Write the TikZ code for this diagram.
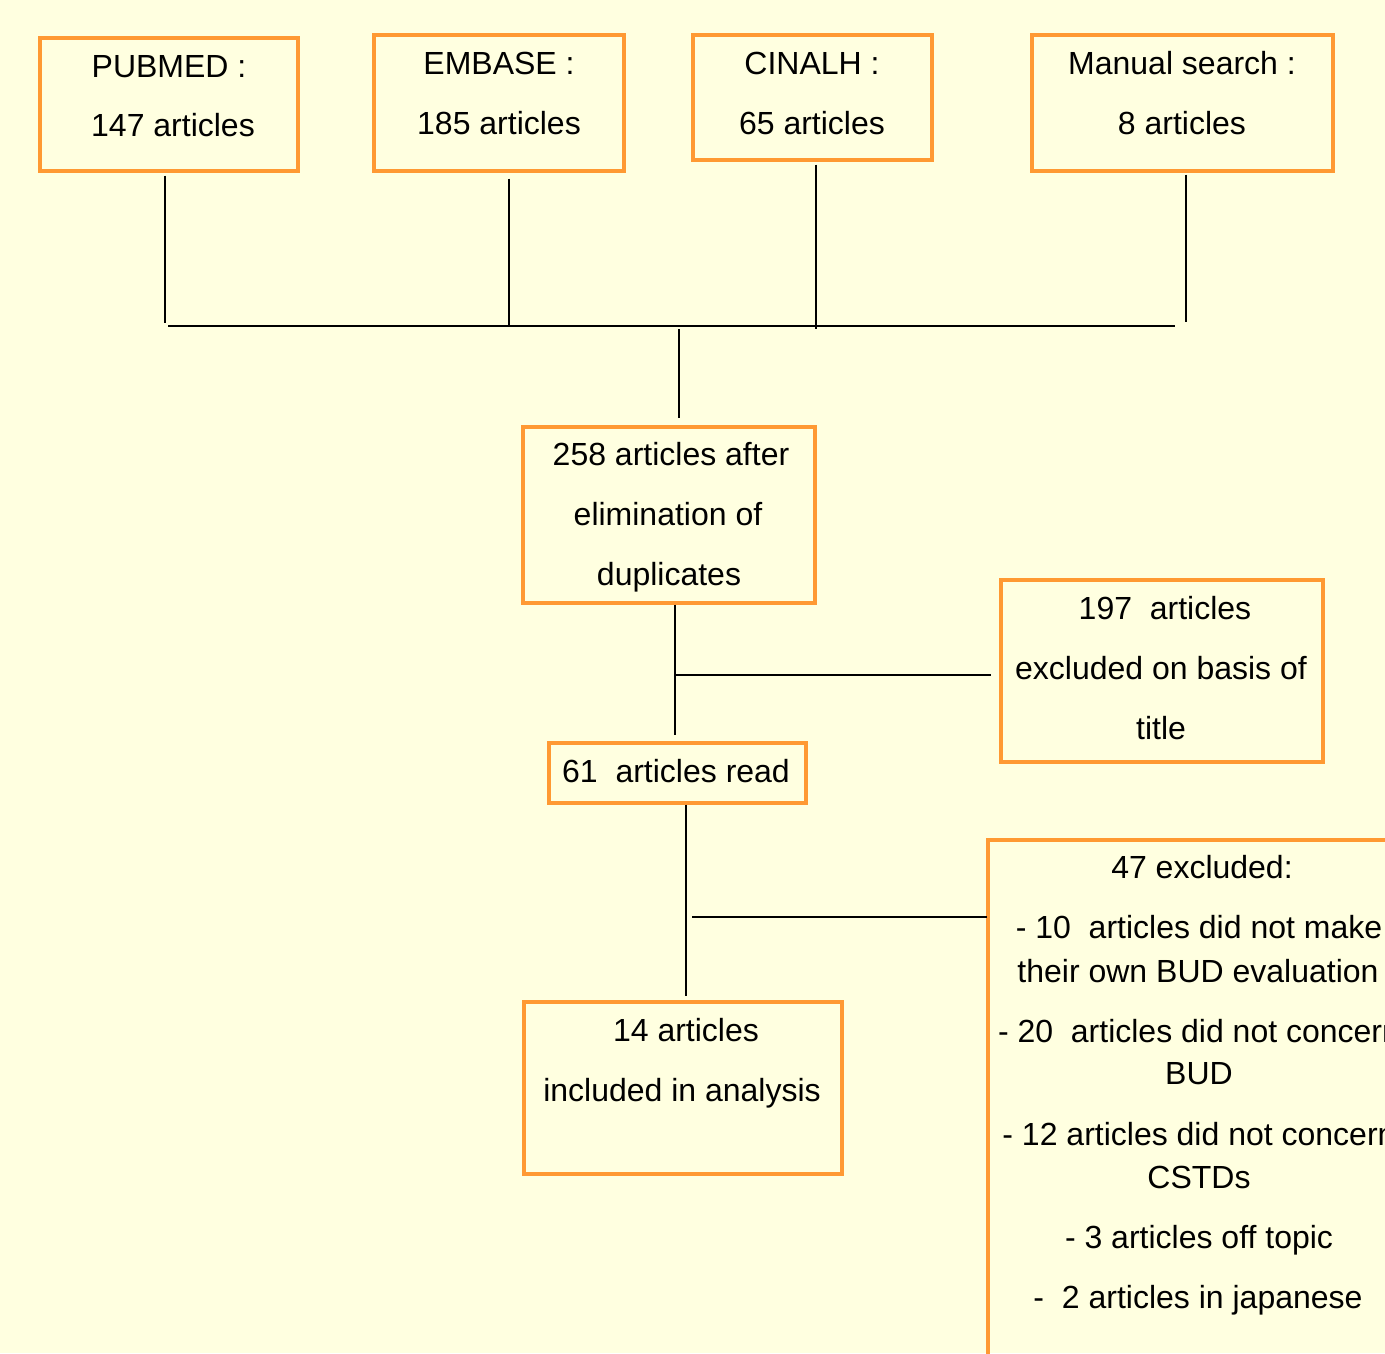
\documentclass[tikz,border=0pt]{standalone}
\usepackage{fontspec}
\setmainfont{Liberation Sans}
\definecolor{bgyellow}{RGB}{255,255,224}
\definecolor{boxorange}{RGB}{255,153,51}
\begin{document}
\begin{tikzpicture}[x=0.75pt,y=-0.75pt,
  box/.style={draw=boxorange, line width=2.4pt, inner sep=0pt},
  txt/.style={anchor=base, inner sep=0pt, font=\fontsize{24}{29}\selectfont},
  conn/.style={draw=black, line width=1.4pt}]
\fill[bgyellow] (0,0) rectangle (1385,1353);
\useasboundingbox (0,0) rectangle (1385,1353);
\clip (0,0) rectangle (1385,1353);

% boxes
\node[box, minimum width=193.5pt, minimum height=99.75pt] (pub) at (169,104.5) {};
\node[box, minimum width=187.5pt, minimum height=102pt] (emb) at (499,103) {};
\node[box, minimum width=179.25pt, minimum height=93.75pt] (cin) at (812.5,97.5) {};
\node[box, minimum width=225.75pt, minimum height=102pt] (man) at (1182.5,103) {};
\node[box, minimum width=219pt, minimum height=132pt] (dup) at (669,515) {};
\node[box, minimum width=241.5pt, minimum height=136.5pt] (tit) at (1162,671) {};
\node[box, minimum width=192.75pt, minimum height=45pt] (read) at (677.5,773) {};
\node[box, minimum width=238.5pt, minimum height=129pt] (inc) at (683,1088) {};
\node[box, minimum width=316.5pt, minimum height=405pt] (exc) at (1199,1110) {};

% texts
\node[txt] (pub1) at (169,77) {PUBMED :};
\node[txt] (pub2) at (173,136) {147 articles};
\node[txt] (emb1) at (499,74) {EMBASE :};
\node[txt] (emb2) at (499,134) {185 articles};
\node[txt] (cin1) at (812,74) {CINALH :};
\node[txt] (cin2) at (812,134) {65 articles};
\node[txt] (man1) at (1182,74) {Manual search :};
\node[txt] (man2) at (1182,134) {8 articles};
\node[txt] (dup1) at (671,465) {258 articles after};
\node[txt] (dup2) at (668,525) {elimination of};
\node[txt] (dup3) at (669,585) {duplicates};
\node[txt] (tit1) at (1165,619) {197\ \ articles};
\node[txt] (tit2) at (1161,679) {excluded on basis of};
\node[txt] (tit3) at (1161,739) {title};
\node[txt] (read1) at (676,782) {61\ \ articles read};
\node[txt] (inc1) at (686,1041) {14 articles};
\node[txt] (inc2) at (682,1101) {included in analysis};
\node[txt] (exc1) at (1202,878) {47 excluded:};
\node[txt] (exc2) at (1199,938) {- 10\ \ articles did not make};
\node[txt] (exc3) at (1198,982) {their own BUD evaluation};
\node[txt] (exc4) at (1199,1042) {- 20\ \ articles did not concern};
\node[txt] (exc5) at (1199,1084) {BUD};
\node[txt] (exc6) at (1199,1145) {- 12 articles did not concern};
\node[txt] (exc7) at (1199,1188) {CSTDs};
\node[txt] (exc8) at (1199,1248) {- 3 articles off topic};
\node[txt] (exc9) at (1198,1308) {-\ \ 2 articles in japanese};

% junction coordinates
\coordinate (pubJ) at (165,323);
\coordinate (embJ) at (509,326);
\coordinate (cinJ) at (816,329);
\coordinate (manJ) at (1186,322);
\coordinate (busL) at (168,326);
\coordinate (busR) at (1175,326);
\coordinate (busM) at (679,329);
\coordinate (dupTop) at (679,418);
\coordinate (dupJ) at (675,675);
\coordinate (dupEnd) at (675,735);
\coordinate (titJ) at (991,675);
\coordinate (readEnd) at (686,996);
\coordinate (excJ0) at (692,917);
\coordinate (excJ) at (987,917);

% connectors
\draw[conn] ([yshift=-2.25pt]pub.south -| pubJ) -- (pubJ);
\draw[conn] ([yshift=-4.5pt]emb.south -| embJ) -- (embJ);
\draw[conn] ([yshift=-2.25pt]cin.south -| cinJ) -- (cinJ);
\draw[conn] ([yshift=-1.5pt]man.south -| manJ) -- (manJ);
\draw[conn] (busL) -- (busR);
\draw[conn] (busM) -- (dupTop);
\draw[conn] (dup.south -| dupJ) -- (dupEnd);
\draw[conn] (dupJ) -- (titJ);
\draw[conn] (read.south -| readEnd) -- (readEnd);
\draw[conn] (excJ0) -- (excJ);
\end{tikzpicture}
\end{document}
